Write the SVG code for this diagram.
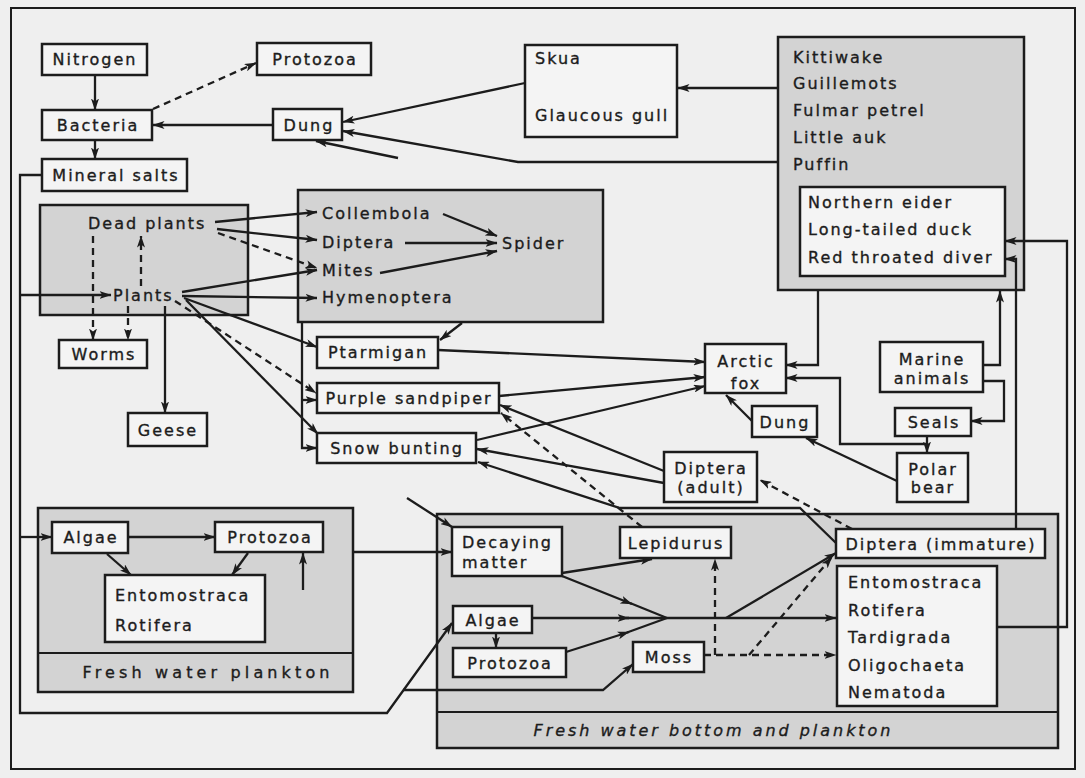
<svg xmlns="http://www.w3.org/2000/svg" width="1085" height="778" viewBox="0 0 1085 778">
<style>
.t{font-family:"DejaVu Sans","Liberation Sans",sans-serif;font-size:16px;letter-spacing:2px;fill:#1c1c1c;stroke:#1c1c1c;stroke-width:0.35}
.c{text-anchor:middle}
.box{fill:#f4f4f4;stroke:#1c1c1c;stroke-width:2.5}
.grp{fill:#d3d3d3;stroke:#1c1c1c;stroke-width:2.5}
.ln{fill:none;stroke:#1c1c1c;stroke-width:2.3}
.ar{marker-end:url(#a)}
.d{stroke-dasharray:7 5}
</style>
<defs>
<marker id="a" viewBox="0 0 12 8" refX="11.5" refY="4" markerWidth="12" markerHeight="8" markerUnits="userSpaceOnUse" orient="auto">
<path d="M0,0 L12,4 L0,8 L3,4 Z" fill="#1c1c1c"/>
</marker>
</defs>
<rect x="0" y="0" width="1085" height="778" fill="#efefef"/>
<rect x="11" y="8" width="1064" height="761" fill="none" stroke="#1c1c1c" stroke-width="2"/>

<!-- container groups -->
<g id="seabirds">
<rect class="grp" x="778" y="37" width="246" height="253"/>
<text class="t" x="793" y="63">Kittiwake</text>
<text class="t" x="793" y="89">Guillemots</text>
<text class="t" x="793" y="116">Fulmar petrel</text>
<text class="t" x="793" y="143">Little auk</text>
<text class="t" x="793" y="170">Puffin</text>
</g>
<g id="plants-group">
<rect class="grp" x="40" y="205" width="208" height="110"/>
</g>
<g id="invertebrates">
<rect class="grp" x="298" y="190" width="305" height="132"/>
</g>
<g id="fresh-water-plankton">
<rect class="grp" x="38" y="508" width="315" height="184"/>
<line x1="38" y1="653" x2="353" y2="653" stroke="#1c1c1c" stroke-width="2"/>
<text class="t c" x="207" y="678" textLength="249" lengthAdjust="spacing">Fresh water plankton</text>
</g>
<g id="fresh-water-bottom">
<rect class="grp" x="437" y="514" width="621" height="234"/>
<line x1="437" y1="712" x2="1058" y2="712" stroke="#1c1c1c" stroke-width="2"/>
<text class="t c" x="713" y="736" font-style="italic" textLength="359" lengthAdjust="spacing">Fresh water bottom and plankton</text>
</g>

<!-- connectors -->
<g id="connectors">
<path class="ln ar" d="M95,75 V110"/>
<path class="ln ar d" d="M153,109 L256,63"/>
<path class="ln ar" d="M273,125 H153"/>
<path class="ln ar" d="M95,140 V159"/>
<path class="ln ar" d="M525,83 L343,122"/>
<path class="ln ar" d="M778,162 H518 L343,131"/>
<path class="ln ar" d="M398,158 L316,141"/>
<path class="ln ar" d="M778,88 H678"/>
<path class="ln ar" d="M42,175 H20 V713 H387 L452,623"/>
<path class="ln ar" d="M20,295 H111"/>
<path class="ln ar" d="M20,537 H52"/>
<path class="ln ar" d="M403,690 H603 L633,664"/>
<path class="ln ar" d="M215,222 L317,212"/>
<path class="ln ar" d="M217,229 L317,240"/>
<path class="ln ar d" d="M218,233 L317,268"/>
<path class="ln ar d" d="M93,236 V340"/>
<path class="ln ar d" d="M141,286 V236"/>
<path class="ln ar d" d="M128,306 V340"/>
<path class="ln ar" d="M165,306 V413"/>
<path class="ln ar" d="M182,292 L317,270"/>
<path class="ln ar" d="M182,296 L317,298"/>
<path class="ln ar" d="M184,298 L317,347"/>
<path class="ln ar d" d="M175,301 L316,393"/>
<path class="ln ar" d="M186,300 L318,434"/>
<path class="ln ar" d="M302,322 V448 H317"/>
<path class="ln ar" d="M302,400 H317"/>
<path class="ln ar" d="M462,323 L440,340"/>
<path class="ln ar" d="M443,214 L497,236"/>
<path class="ln ar" d="M405,243 L497,243"/>
<path class="ln ar" d="M380,273 L497,251"/>
<path class="ln ar" d="M438,350 L705,362"/>
<path class="ln ar" d="M499,396 L705,377"/>
<path class="ln ar" d="M477,440 L705,386"/>
<path class="ln ar" d="M664,471 L500,405"/>
<path class="ln ar" d="M664,483 L477,449"/>
<path class="ln ar" d="M836,543 L800,508 H620 L478,462"/>
<path class="ln ar d" d="M852,529 L760,480"/>
<path class="ln ar d" d="M642,527 L501,413"/>
<path class="ln ar" d="M818,290 V365 H786"/>
<path class="ln ar" d="M927,444 H840 V378 H786"/>
<path class="ln ar" d="M927,435 V453"/>
<path class="ln ar" d="M897,481 L806,438"/>
<path class="ln ar" d="M752,421 L726,395"/>
<path class="ln ar" d="M983,365 H1000 V291"/>
<path class="ln ar" d="M983,381 H1004 V421 H971"/>
<path class="ln ar" d="M1016,529 V259 H1005"/>
<path class="ln ar" d="M997,627 H1067 V241 H1005"/>
<path class="ln ar" d="M353,552 H452"/>
<path class="ln ar" d="M407,498 L452,527"/>
<path class="ln ar" d="M128,537 H215"/>
<path class="ln ar" d="M107,554 L131,575"/>
<path class="ln ar" d="M248,553 L232,575"/>
<path class="ln ar" d="M303,590 V553"/>
<path class="ln ar" d="M562,573 L652,559"/>
<path class="ln ar" d="M562,576 L632,604"/>
<path class="ln" d="M630,603 L667,618"/>
<path class="ln ar" d="M532,618 L629,618"/>
<path class="ln" d="M626,618 L667,618"/>
<path class="ln ar" d="M566,652 L629,632"/>
<path class="ln" d="M627,632.5 L667,618"/>
<path class="ln ar" d="M496,633 V648"/>
<path class="ln ar" d="M667,618 H836"/>
<path class="ln ar" d="M726,618 L836,553"/>
<path class="ln ar d" d="M704,655 H836"/>
<path class="ln ar d" d="M715,655 V559"/>
<path class="ln ar d" d="M749,655 L832,557"/>
</g>

<!-- nodes -->
<g id="nitrogen"><rect class="box" x="42" y="44" width="105" height="31"/><text class="t c" x="95" y="65">Nitrogen</text></g>
<g id="protozoa-top"><rect class="box" x="257" y="43" width="114" height="32"/><text class="t c" x="315" y="65">Protozoa</text></g>
<g id="bacteria"><rect class="box" x="42" y="110" width="110" height="30"/><text class="t c" x="98" y="131">Bacteria</text></g>
<g id="dung-top"><rect class="box" x="273" y="109" width="69" height="31"/><text class="t c" x="309" y="131">Dung</text></g>
<g id="mineral-salts"><rect class="box" x="42" y="159" width="145" height="32"/><text class="t c" x="116" y="181">Mineral salts</text></g>
<g id="skua"><rect class="box" x="525" y="45" width="152" height="92"/><text class="t" x="535" y="64">Skua</text><text class="t" x="535" y="121">Glaucous gull</text></g>
<g id="ducks"><rect class="box" x="800" y="187" width="205" height="89"/><text class="t" x="808" y="208">Northern eider</text><text class="t" x="808" y="235">Long-tailed duck</text><text class="t" x="808" y="263">Red throated diver</text></g>
<g id="dead-plants"><text class="t" x="88" y="229">Dead plants</text></g>
<g id="plants"><text class="t" x="113" y="301">Plants</text></g>
<g id="collembola"><text class="t" x="322" y="219">Collembola</text></g>
<g id="diptera"><text class="t" x="322" y="248">Diptera</text></g>
<g id="mites"><text class="t" x="322" y="276">Mites</text></g>
<g id="hymenoptera"><text class="t" x="322" y="303">Hymenoptera</text></g>
<g id="spider"><text class="t" x="502" y="249">Spider</text></g>
<g id="worms"><rect class="box" x="59" y="340" width="88" height="28"/><text class="t c" x="104" y="360">Worms</text></g>
<g id="geese"><rect class="box" x="128" y="413" width="79" height="33"/><text class="t c" x="168" y="436">Geese</text></g>
<g id="ptarmigan"><rect class="box" x="317" y="337" width="121" height="31"/><text class="t c" x="378" y="358">Ptarmigan</text></g>
<g id="purple-sandpiper"><rect class="box" x="317" y="383" width="182" height="30"/><text class="t c" x="409" y="404">Purple sandpiper</text></g>
<g id="snow-bunting"><rect class="box" x="317" y="433" width="159" height="30"/><text class="t c" x="397" y="454">Snow bunting</text></g>
<g id="arctic-fox"><rect class="box" x="705" y="344" width="81" height="49"/><text class="t c" x="746" y="367">Arctic</text><text class="t c" x="746" y="389">fox</text></g>
<g id="marine-animals"><rect class="box" x="880" y="342" width="103" height="50"/><text class="t c" x="932" y="365">Marine</text><text class="t c" x="932" y="384">animals</text></g>
<g id="dung-right"><rect class="box" x="752" y="406" width="65" height="31"/><text class="t c" x="785" y="428">Dung</text></g>
<g id="seals"><rect class="box" x="895" y="408" width="76" height="28"/><text class="t c" x="934" y="428">Seals</text></g>
<g id="diptera-adult"><rect class="box" x="664" y="452" width="93" height="50"/><text class="t c" x="711" y="474">Diptera</text><text class="t c" x="711" y="493">(adult)</text></g>
<g id="polar-bear"><rect class="box" x="897" y="453" width="71" height="49"/><text class="t c" x="933" y="475">Polar</text><text class="t c" x="933" y="493">bear</text></g>
<g id="algae-plankton"><rect class="box" x="52" y="522" width="76" height="31"/><text class="t c" x="91" y="543">Algae</text></g>
<g id="protozoa-plankton"><rect class="box" x="215" y="522" width="108" height="30"/><text class="t c" x="270" y="543">Protozoa</text></g>
<g id="entomostraca-plankton"><rect class="box" x="105" y="575" width="160" height="67"/><text class="t" x="115" y="601">Entomostraca</text><text class="t" x="115" y="631">Rotifera</text></g>
<g id="decaying-matter"><rect class="box" x="452" y="527" width="110" height="49"/><text class="t" x="462" y="548">Decaying</text><text class="t" x="462" y="568">matter</text></g>
<g id="lepidurus"><rect class="box" x="620" y="527" width="111" height="31"/><text class="t c" x="676" y="549">Lepidurus</text></g>
<g id="diptera-immature"><rect class="box" x="836" y="529" width="209" height="29"/><text class="t c" x="941" y="550">Diptera (immature)</text></g>
<g id="entomostraca-bottom"><rect class="box" x="837" y="566" width="160" height="140"/><text class="t" x="848" y="588">Entomostraca</text><text class="t" x="848" y="616">Rotifera</text><text class="t" x="848" y="643">Tardigrada</text><text class="t" x="848" y="671">Oligochaeta</text><text class="t" x="848" y="698">Nematoda</text></g>
<g id="algae-bottom"><rect class="box" x="453" y="606" width="79" height="27"/><text class="t c" x="493" y="626">Algae</text></g>
<g id="protozoa-bottom"><rect class="box" x="453" y="648" width="113" height="29"/><text class="t c" x="510" y="669">Protozoa</text></g>
<g id="moss"><rect class="box" x="633" y="642" width="71" height="30"/><text class="t c" x="669" y="663">Moss</text></g>
</svg>
